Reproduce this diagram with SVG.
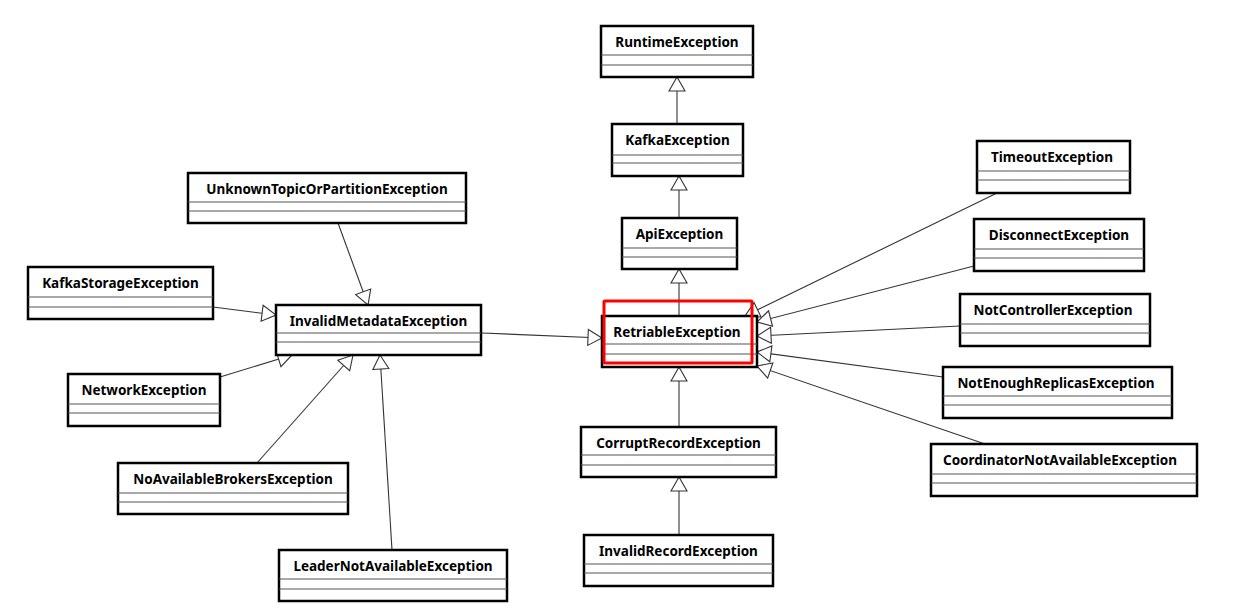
<svg xmlns="http://www.w3.org/2000/svg" width="1241" height="612" viewBox="0 0 1241 612">
<style>
.box{fill:#fff;stroke:#000;stroke-width:2.5}
.div{stroke:#555;stroke-width:1.2}
.lbl{font-family:"Noto Sans","DejaVu Sans",sans-serif;font-weight:bold;font-size:13.5px;fill:#000;text-anchor:middle}
.conn line{stroke:#333;stroke-width:1.1;marker-end:url(#tri)}
</style>
<defs>
<marker id="tri" markerUnits="userSpaceOnUse" viewBox="0 0 16 18" refX="15" refY="9" markerWidth="16" markerHeight="18" orient="auto">
<path d="M1,1 L15,9 L1,17 Z" fill="#fff" stroke="#333" stroke-width="1.1"/>
</marker>
</defs>
<rect width="1241" height="612" fill="#fff"/>
<g id="connectors" class="conn">
<line x1="677" y1="124" x2="677" y2="77"/>
<line x1="679" y1="218" x2="679" y2="176"/>
<line x1="679" y1="316" x2="679" y2="269"/>
<line x1="679" y1="427" x2="679" y2="367"/>
<line x1="679" y1="535" x2="679" y2="477"/>
<line x1="482" y1="333" x2="602" y2="338"/>
<line x1="338" y1="223" x2="368" y2="305"/>
<line x1="213" y1="307" x2="276" y2="315"/>
<line x1="220" y1="377" x2="292" y2="355"/>
<line x1="257" y1="463" x2="353" y2="355"/>
<line x1="392" y1="550" x2="380" y2="355"/>
<line x1="997" y1="193" x2="745" y2="316"/>
<line x1="974" y1="266" x2="757" y2="322"/>
<line x1="960" y1="326" x2="757" y2="336"/>
<line x1="943" y1="377" x2="757" y2="352"/>
<line x1="985" y1="444" x2="757" y2="366"/>
</g>
<g id="RuntimeException"><rect class="box" x="601" y="26" width="152" height="51"/><line class="div" x1="601" y1="55" x2="753" y2="55"/><line class="div" x1="601" y1="65" x2="753" y2="65"/><text class="lbl" x="677" y="47">RuntimeException</text></g>
<g id="KafkaException"><rect class="box" x="612" y="124" width="131" height="52"/><line class="div" x1="612" y1="155" x2="743" y2="155"/><line class="div" x1="612" y1="163" x2="743" y2="163"/><text class="lbl" x="677.5" y="145">KafkaException</text></g>
<g id="ApiException"><rect class="box" x="622" y="218" width="115" height="51"/><line class="div" x1="622" y1="248" x2="737" y2="248"/><line class="div" x1="622" y1="257" x2="737" y2="257"/><text class="lbl" x="679.5" y="239">ApiException</text></g>
<g id="RetriableException"><rect class="box" x="602" y="316" width="155" height="51" stroke-width="3"/><line class="div" x1="602" y1="344" x2="757" y2="344"/><line class="div" x1="602" y1="354" x2="757" y2="354"/><text class="lbl" x="677" y="337">RetriableException</text><rect x="604" y="301" width="148" height="62" fill="none" stroke="#ff0000" stroke-width="3" rx="1"/></g>
<g id="CorruptRecordException"><rect class="box" x="581" y="427" width="195" height="50"/><line class="div" x1="581" y1="455" x2="776" y2="455"/><line class="div" x1="581" y1="465" x2="776" y2="465"/><text class="lbl" x="678.5" y="448">CorruptRecordException</text></g>
<g id="InvalidRecordException"><rect class="box" x="584" y="535" width="189" height="51"/><line class="div" x1="584" y1="564" x2="773" y2="564"/><line class="div" x1="584" y1="573" x2="773" y2="573"/><text class="lbl" x="678.5" y="556">InvalidRecordException</text></g>
<g id="UnknownTopicOrPartitionException"><rect class="box" x="188" y="173" width="278" height="50"/><line class="div" x1="188" y1="202" x2="466" y2="202"/><line class="div" x1="188" y1="211" x2="466" y2="211"/><text class="lbl" x="327" y="194">UnknownTopicOrPartitionException</text></g>
<g id="InvalidMetadataException"><rect class="box" x="276" y="305" width="205" height="50"/><line class="div" x1="276" y1="333" x2="481" y2="333"/><line class="div" x1="276" y1="342" x2="481" y2="342"/><text class="lbl" x="378.5" y="326">InvalidMetadataException</text></g>
<g id="KafkaStorageException"><rect class="box" x="28" y="267" width="185" height="52"/><line class="div" x1="28" y1="297" x2="213" y2="297"/><line class="div" x1="28" y1="307" x2="213" y2="307"/><text class="lbl" x="120.5" y="288">KafkaStorageException</text></g>
<g id="NetworkException"><rect class="box" x="68" y="374" width="152" height="52"/><line class="div" x1="68" y1="404" x2="220" y2="404"/><line class="div" x1="68" y1="413" x2="220" y2="413"/><text class="lbl" x="144" y="395">NetworkException</text></g>
<g id="NoAvailableBrokersException"><rect class="box" x="118" y="463" width="230" height="51"/><line class="div" x1="118" y1="493" x2="348" y2="493"/><line class="div" x1="118" y1="502" x2="348" y2="502"/><text class="lbl" x="233" y="484">NoAvailableBrokersException</text></g>
<g id="LeaderNotAvailableException"><rect class="box" x="279" y="550" width="228" height="51"/><line class="div" x1="279" y1="579" x2="507" y2="579"/><line class="div" x1="279" y1="589" x2="507" y2="589"/><text class="lbl" x="393" y="571">LeaderNotAvailableException</text></g>
<g id="TimeoutException"><rect class="box" x="977" y="141" width="153" height="52"/><line class="div" x1="977" y1="171" x2="1130" y2="171"/><line class="div" x1="977" y1="180" x2="1130" y2="180"/><text class="lbl" x="1052" y="162">TimeoutException</text></g>
<g id="DisconnectException"><rect class="box" x="974" y="219" width="170" height="52"/><line class="div" x1="974" y1="249" x2="1144" y2="249"/><line class="div" x1="974" y1="258" x2="1144" y2="258"/><text class="lbl" x="1059" y="240">DisconnectException</text></g>
<g id="NotControllerException"><rect class="box" x="960" y="294" width="190" height="52"/><line class="div" x1="960" y1="324" x2="1150" y2="324"/><line class="div" x1="960" y1="333" x2="1150" y2="333"/><text class="lbl" x="1053" y="315">NotControllerException</text></g>
<g id="NotEnoughReplicasException"><rect class="box" x="943" y="367" width="229" height="51"/><line class="div" x1="943" y1="396" x2="1172" y2="396"/><line class="div" x1="943" y1="405" x2="1172" y2="405"/><text class="lbl" x="1056" y="388">NotEnoughReplicasException</text></g>
<g id="CoordinatorNotAvailableException"><rect class="box" x="931" y="444" width="266" height="52"/><line class="div" x1="931" y1="474" x2="1197" y2="474"/><line class="div" x1="931" y1="483" x2="1197" y2="483"/><text class="lbl" x="1060" y="465">CoordinatorNotAvailableException</text></g>
</svg>
